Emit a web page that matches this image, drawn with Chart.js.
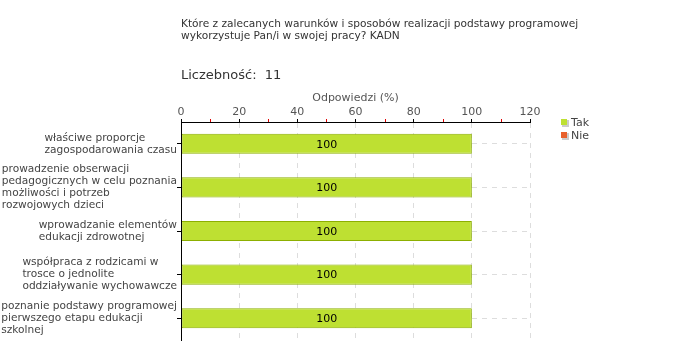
<!DOCTYPE html>
<html>
<head>
<meta charset="utf-8">
<script src="https://cdn.jsdelivr.net/npm/chart.js@4"></script>
<style>
  body { margin: 0; background: #fff; }
  #wrap { width: 680px; height: 360px; }
</style>
</head>
<body>
<div id="wrap"><canvas id="chart" width="680" height="360"></canvas></div>
<script>
// data
const categories = [
  ["właściwe proporcje", "zagospodarowania czasu"],
  ["prowadzenie obserwacji", "pedagogicznych w celu poznania", "możliwości i potrzeb", "rozwojowych dzieci"],
  ["wprowadzanie elementów", "edukacji zdrowotnej"],
  ["współpraca z rodzicami w", "trosce o jednolite", "oddziaływanie wychowawcze"],
  ["poznanie podstawy programowej", "pierwszego etapu edukacji", "szkolnej"]
];
const takValues = [100, 100, 100, 100, 100];
const nieValues = [0, 0, 0, 0, 0];
const seriesNames = ["Tak", "Nie"];
const titleLines = ["Które z zalecanych warunków i sposobów realizacji podstawy programowej", "wykorzystuje Pan/i w swojej pracy? KADN"];
const countLabel = "Liczebność:  11";

const FONT = "DejaVu Sans, Verdana, sans-serif";
const green = "#bee032";
const greenEdge = "#8caf00";
const orange = "#e8602c";

const ctx = document.getElementById("chart").getContext("2d");

new Chart(ctx, {
  type: "bar",
  data: {
    labels: categories,
    datasets: [
      {
        label: seriesNames[0],
        data: takValues,
        backgroundColor: green,
        borderColor: greenEdge,
        borderWidth: 1,
        borderSkipped: false,
        barPercentage: 0.46,
        categoryPercentage: 1,
      },
      {
        label: seriesNames[1],
        data: nieValues,
        backgroundColor: orange,
        borderWidth: 0,
        barPercentage: 0.46,
        categoryPercentage: 1,
      },
    ],
  },
  options: {
    indexAxis: "y",
    responsive: false,
    animation: false,
    layout: { padding: { top: 88, bottom: 20, right: 150, left: 0 } },
    plugins: {
      legend: { display: false },
      tooltip: { enabled: false },
    },
    scales: {
      x: {
        position: "top",
        min: 0,
        max: 120,
        stacked: true,
        ticks: { stepSize: 20, color: "#555", font: { family: FONT, size: 11 }, padding: 0 },
        title: { display: true, text: "Odpowiedzi (%)", color: "#555", font: { family: FONT, size: 11 }, padding: { top: 4, bottom: 0 } },
        grid: { color: "#dddddd", tickColor: "#000", tickLength: 3, drawTicks: true },
        border: { display: true, color: "#000", width: 1, dash: [5, 5] },
        afterFit: (scale) => { scale.height = 34; },
      },
      y: {
        stacked: true,
        ticks: { display: false },
        grid: { color: "#dddddd", tickColor: "#000", tickLength: 4, offset: false },
        border: { display: true, color: "#000", width: 1, dash: [5, 5] },
        afterFit: (scale) => { scale.width = 181; },
      },
    },
  },
  plugins: [
    {
      id: "decor",
      afterDraw: (chart) => {
        const c = chart.ctx;
        const x = chart.scales.x;
        const y = chart.scales.y;
        const area = chart.chartArea;
        c.save();
        // solid axis lines
        c.strokeStyle = "#000";
        c.lineWidth = 1;
        c.beginPath();
        c.moveTo(area.left + 0.5, area.top + 0.5);
        c.lineTo(area.right + 0.5, area.top + 0.5);
        c.moveTo(area.left + 0.5, area.top);
        c.lineTo(area.left + 0.5, area.bottom);
        c.stroke();
        // red minor ticks
        c.strokeStyle = "#e00000";
        for (let v = 10; v < 120; v += 20) {
          const px = Math.round(x.getPixelForValue(v)) + 0.5;
          c.beginPath();
          c.moveTo(px, area.top - 3);
          c.lineTo(px, area.top);
          c.stroke();
        }
        // value labels
        c.fillStyle = "#000";
        c.font = "11px " + FONT;
        c.textAlign = "center";
        c.textBaseline = "middle";
        const meta = chart.getDatasetMeta(0);
        meta.data.forEach((bar, i) => {
          c.fillText(String(takValues[i]), (bar.base + bar.x) / 2, bar.y + 1);
        });
        // category labels: left aligned block ending at axis
        c.fillStyle = "#444";
        c.textAlign = "left";
        c.font = "10.6px " + FONT;
        categories.forEach((lines, i) => {
          const cy = y.getPixelForTick(i);
          const w = Math.max(...lines.map((l) => c.measureText(l).width));
          const lx = area.left - 4 - w;
          const lh = 12;
          const y0 = cy - ((lines.length - 1) * lh) / 2;
          lines.forEach((l, k) => c.fillText(l, lx, y0 + k * lh));
        });
        // title
        c.fillStyle = "#333";
        titleLines.forEach((l, k) => c.fillText(l, 181, 24 + k * 12));
        c.font = "13px " + FONT;
        c.fillText(countLabel, 181, 76);
        // legend
        c.font = "11px " + FONT;
        chart.data.datasets.forEach((ds, i) => {
          const ly = 123 + i * 13;
          c.fillStyle = "#ccc";
          c.fillRect(562, ly - 3, 7, 7);
          c.fillStyle = ds.backgroundColor;
          c.fillRect(561, ly - 4, 6, 6);
          c.fillStyle = "#444";
          c.fillText(ds.label, 571, ly);
        });
        c.restore();
      },
    },
  ],
});
</script>
</body>
</html>
